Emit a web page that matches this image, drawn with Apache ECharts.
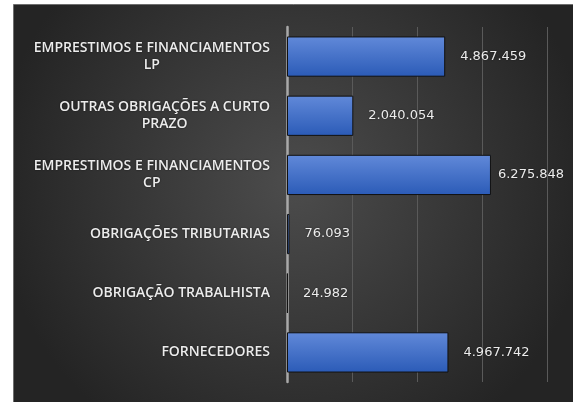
<!DOCTYPE html>
<html>
<head>
<meta charset="utf-8">
<script src="https://cdn.jsdelivr.net/npm/echarts@6/dist/echarts.min.js"></script>
<style>
  html, body { margin: 0; padding: 0; background: #fff; }
  #chart { width: 573px; height: 402px; }
</style>
</head>
<body>
<div id="chart"></div>
<script>
// categorias de cima para baixo
const categorias = [
  'EMPRESTIMOS E FINANCIAMENTOS\nLP',
  'OUTRAS OBRIGAÇÕES A CURTO\nPRAZO',
  'EMPRESTIMOS E FINANCIAMENTOS\nCP',
  'OBRIGAÇÕES TRIBUTARIAS',
  'OBRIGAÇÃO TRABALHISTA',
  'FORNECEDORES'
]
const valores = [4867459, 2040054, 6275848, 76093, 24982, 4967742]

const labelSize = 14
const labelFont = '600 ' + labelSize + 'px "Open Sans"'

// mede as linhas para centralizar umas nas outras (como no Excel)
const ctx = document.createElement('canvas').getContext('2d')
ctx.font = labelFont
const larg = (l) => ctx.measureText(l).width

const fmt = (v) => String(v).replace(/\B(?=(\d{3})+(?!\d))/g, '.')

const rich = {}
categorias.forEach((c, i) => {
  const linhas = c.split('\n')
  if (linhas.length < 2) return
  const maxW = Math.max(...linhas.map(larg))
  linhas.forEach((l, j) => {
    const pad = Math.max(0, (maxW - larg(l)) / 2)
    rich['c' + i + '_' + j] = { padding: [0, pad, 0, pad], lineHeight: 17 }
  })
})

// o rótulo do maior valor fica mais perto da barra para caber na área
const maior = Math.max(...valores)
const dadosBarra = valores.map(v => v === maior ? { value: v, label: { distance: 7 } } : v)

const chart = echarts.init(document.getElementById('chart'))

const option = {
  backgroundColor: '#ffffff',
  animation: false,
  graphic: [{
    type: 'rect',
    silent: true,
    z: -10,
    shape: { x: 13.5, y: 4.5, width: 560, height: 398 },
    style: {
      fill: new echarts.graphic.RadialGradient(0.5, 0.45, 0.75, [
        { offset: 0, color: '#4c4c4c' },
        { offset: 1, color: '#242424' }
      ]),
      stroke: '#6e6e6e',
      lineWidth: 1
    }
  }],
  grid: { left: 287, right: 26, top: 27, bottom: 20 },
  xAxis: {
    type: 'value',
    min: 0,
    max: 8000000,
    interval: 2000000,
    axisLine: { show: false },
    axisTick: { show: false },
    axisLabel: { show: false },
    splitLine: { show: true, lineStyle: { color: '#5a5a5a', width: 1 } }
  },
  yAxis: {
    type: 'category',
    inverse: true,
    data: categorias,
    axisTick: { show: false },
    axisLine: { show: true, lineStyle: { color: '#a9a9a9', width: 2.5 } },
    axisLabel: {
      margin: 17,
      color: '#ececec',
      fontFamily: 'Open Sans',
      fontWeight: 600,
      fontSize: labelSize,
      lineHeight: 17,
      textShadowColor: 'rgba(0,0,0,0.6)',
      textShadowBlur: 2,
      formatter: (val, idx) => {
        if (val.indexOf('\n') < 0) return val
        return val.split('\n').map((l, j) => '{c' + idx + '_' + j + '|' + l + '}').join('\n')
      },
      rich: rich
    }
  },
  series: [{
    type: 'bar',
    data: dadosBarra,
    barWidth: '68%',
    itemStyle: {
      color: new echarts.graphic.LinearGradient(0, 0, 0, 1, [
        { offset: 0, color: '#6189d9' },
        { offset: 1, color: '#2b5bb7' }
      ]),
      borderColor: '#111111',
      borderWidth: 1
    },
    label: {
      show: true,
      position: 'right',
      distance: 15,
      color: '#ececec',
      fontFamily: 'DejaVu Sans',
      fontSize: 13,
      textShadowColor: 'rgba(0,0,0,0.6)',
      textShadowBlur: 2,
      formatter: (p) => fmt(p.value)
    }
  }]
}

chart.setOption(option)
</script>
</body>
</html>
